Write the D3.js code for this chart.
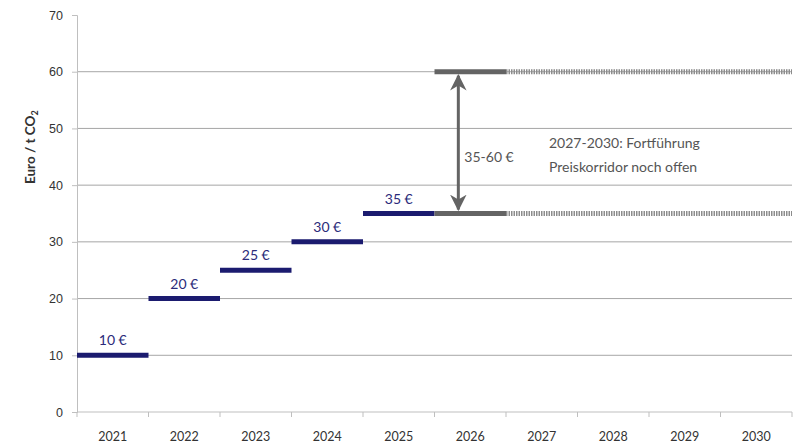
<!DOCTYPE html>
<html>
<head>
<meta charset="utf-8">
<script src="https://cdn.jsdelivr.net/npm/d3@7"></script>
<style>
  body { margin: 0; background: #fff; }
  svg { font-family: Lato, 'Open Sans', sans-serif; }
</style>
</head>
<body>
<div class="chart"></div>
<script>
const years = ['2021', '2022', '2023', '2024', '2025', '2026', '2027', '2028', '2029', '2030'];
const fixedYears = ['2021', '2022', '2023', '2024', '2025'];
const fixedPrices = [10, 20, 25, 30, 35];
const corridorYear = '2026';
const corridor = [35, 60];
const openYears = ['2027', '2028', '2029', '2030'];
const yTicks = [0, 10, 20, 30, 40, 50, 60, 70];
const corridorLabel = '35-60 €';
const noteLines = ['2027-2030: Fortführung', 'Preiskorridor noch offen'];

const margin = { top: 15, right: 6, bottom: 33, left: 77 };
const width = 798 - margin.left - margin.right;
const height = 445 - margin.top - margin.bottom;

const svg = d3
  .select('.chart')
  .append('svg')
  .attr('width', 798)
  .attr('height', 445)
  .append('g')
  .attr('transform', `translate(${margin.left}, ${margin.top})`);

const x = d3.scaleBand().domain(years).range([0, width]);
const y = d3.scaleLinear().domain([0, 70]).range([height, 0]);

// gridlines
svg
  .selectAll('.grid')
  .data(yTicks.filter(d => d > 0 && d < 70))
  .enter()
  .append('line')
  .attr('x1', 0)
  .attr('x2', width)
  .attr('y1', d => y(d))
  .attr('y2', d => y(d))
  .attr('stroke', '#a6a6a6')
  .attr('stroke-width', 1);

// y axis
const yAxis = svg.append('g').call(d3.axisLeft(y).tickValues(yTicks).tickSize(5).tickPadding(9));
yAxis.select('.domain').attr('stroke', '#bfbfbf');
yAxis.selectAll('.tick line').attr('stroke', '#bfbfbf');
yAxis.selectAll('text').attr('font-size', 12.5).attr('fill', '#333');

// x axis with ticks at band boundaries
const xAxis = svg.append('g').attr('transform', `translate(0, ${height})`);
xAxis
  .append('line')
  .attr('x1', 0)
  .attr('x2', width)
  .attr('stroke', '#bfbfbf');
xAxis
  .selectAll('.xtick')
  .data(years.concat(['end']))
  .enter()
  .append('line')
  .attr('x1', (d, i) => (i < years.length ? x(d) : width))
  .attr('x2', (d, i) => (i < years.length ? x(d) : width))
  .attr('y1', 0)
  .attr('y2', 5)
  .attr('stroke', '#bfbfbf');
xAxis
  .selectAll('.xlabel')
  .data(years)
  .enter()
  .append('text')
  .attr('x', d => x(d) + x.bandwidth() / 2)
  .attr('y', 29)
  .attr('text-anchor', 'middle')
  .attr('font-size', 12.5)
  .attr('fill', '#333')
  .text(d => d);

// y label
svg
  .append('text')
  .attr('transform', `translate(-42, ${y(46.7)}) rotate(-90)`)
  .attr('text-anchor', 'middle')
  .attr('font-size', 13.5)
  .attr('font-weight', 'bold')
  .attr('fill', '#333')
  .html('Euro / t CO<tspan font-size="9" dy="3">2</tspan>');

// fixed prices
svg
  .selectAll('.fixed')
  .data(fixedYears)
  .enter()
  .append('line')
  .attr('x1', d => x(d))
  .attr('x2', d => x(d) + x.bandwidth())
  .attr('y1', (d, i) => y(fixedPrices[i]))
  .attr('y2', (d, i) => y(fixedPrices[i]))
  .attr('stroke', '#1b1b6f')
  .attr('stroke-width', 5);
svg
  .selectAll('.fixedLabel')
  .data(fixedYears)
  .enter()
  .append('text')
  .attr('x', d => x(d) + x.bandwidth() / 2)
  .attr('y', (d, i) => y(fixedPrices[i]) - 10)
  .attr('text-anchor', 'middle')
  .attr('font-size', 14)
  .attr('fill', '#2b2b7a')
  .text((d, i) => `${fixedPrices[i]} €`);

// 2026 corridor
svg
  .selectAll('.corridor')
  .data(corridor)
  .enter()
  .append('line')
  .attr('x1', x(corridorYear))
  .attr('x2', x(corridorYear) + x.bandwidth())
  .attr('y1', d => y(d))
  .attr('y2', d => y(d))
  .attr('stroke', '#646464')
  .attr('stroke-width', 5);

// open years (stippled)
svg
  .selectAll('.open')
  .data(corridor)
  .enter()
  .append('line')
  .attr('x1', x(openYears[0]))
  .attr('x2', x(openYears[openYears.length - 1]) + x.bandwidth())
  .attr('y1', d => y(d))
  .attr('y2', d => y(d))
  .attr('stroke', '#8c8c8c')
  .attr('stroke-width', 5)
  .attr('stroke-dasharray', '1.5,1');

// arrow
const defs = svg.append('defs');
defs
  .append('marker')
  .attr('id', 'head')
  .attr('viewBox', '0 0 10 10')
  .attr('refX', 9)
  .attr('refY', 5)
  .attr('markerWidth', 5.5)
  .attr('markerHeight', 5.5)
  .attr('orient', 'auto-start-reverse')
  .append('path')
  .attr('d', 'M0,0 L10,5 L0,10 L3,5 Z')
  .attr('fill', '#646464');
const arrowX = x(corridorYear) + x.bandwidth() / 3;
svg
  .append('line')
  .attr('x1', arrowX)
  .attr('x2', arrowX)
  .attr('y1', y(corridor[1]) + 4)
  .attr('y2', y(corridor[0]) - 4)
  .attr('stroke', '#646464')
  .attr('stroke-width', 3)
  .attr('marker-start', 'url(#head)')
  .attr('marker-end', 'url(#head)');
svg
  .append('text')
  .attr('x', arrowX + 6)
  .attr('y', y(47) + 17)
  .attr('font-size', 14)
  .attr('fill', '#555')
  .text(corridorLabel);

// note
svg
  .selectAll('.note')
  .data(noteLines)
  .enter()
  .append('text')
  .attr('x', x(openYears[0]) + 43)
  .attr('y', (d, i) => y(48) + 8 + i * 24)
  .attr('font-size', 14)
  .attr('fill', '#555')
  .text(d => d);
</script>
</body>
</html>
